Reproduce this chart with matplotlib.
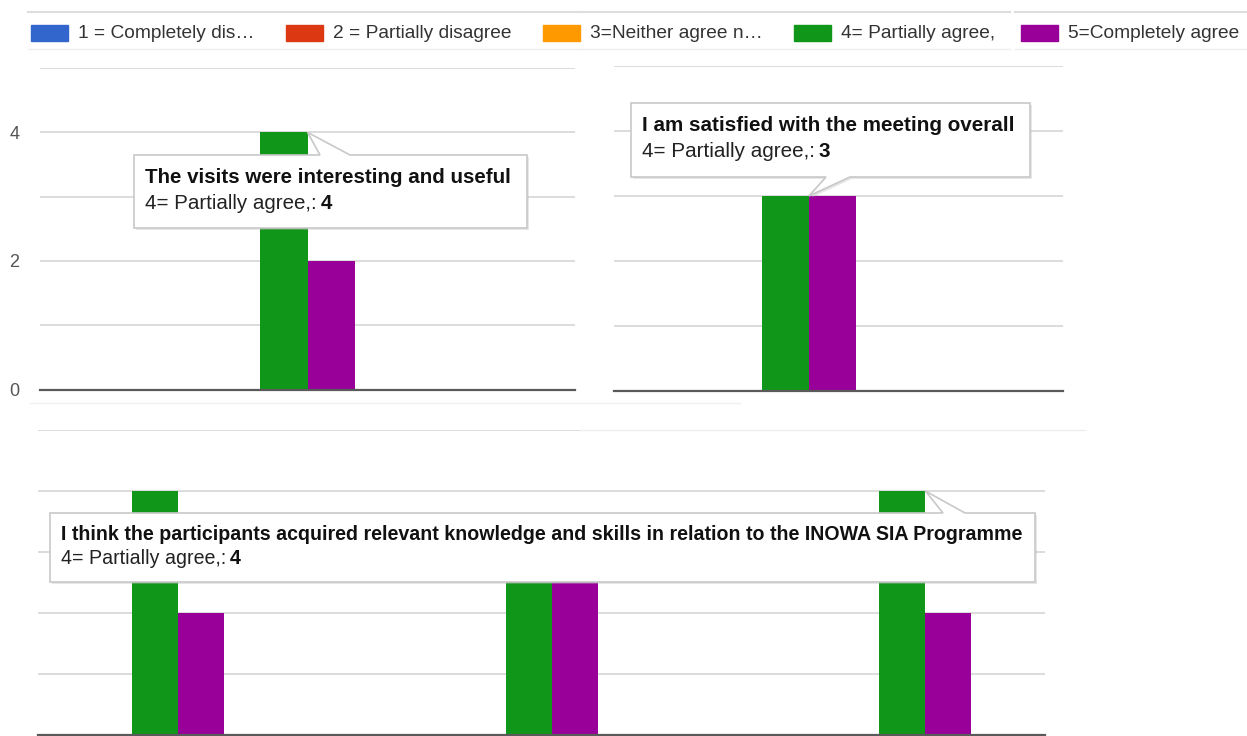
import numpy as np
import matplotlib.pyplot as plt
from matplotlib.patches import Rectangle, Polygon

plt.rcParams['font.family'] = ['Liberation Sans', 'DejaVu Sans']

W, H = 1247, 736

# legend entries
legend_labels = ["1 = Completely dis\u2026", "2 = Partially disagree", "3=Neither agree n\u2026",
                 "4= Partially agree,", "5=Completely agree"]
legend_colors = ["#3366cc", "#dc3912", "#ff9900", "#109618", "#990099"]

# panel data (counts per answer, only 4 and 5 present)
q1_title = "The visits were interesting and useful"
q1_agree4 = [4]
q1_agree5 = [2]

q2_title = "I am satisfied with the meeting overall"
q2_agree4 = [3]
q2_agree5 = [3]

q3_title = "I think the participants acquired relevant knowledge and skills in relation to the INOWA SIA Programme"
q3_agree4 = [4, 3, 4]
q3_agree5 = [2, 3, 2]

fig = plt.figure(figsize=(W / 100, H / 100), dpi=100)
fig.patch.set_facecolor("white")


def px_axes(x0, y0, x1, y1, z=1):
    return fig.add_axes([x0 / W, 1 - y1 / H, (x1 - x0) / W, (y1 - y0) / H], zorder=z)


def bar_panel(ax, v4, v5, xlim, width, labels=False):
    x = np.arange(len(v4))
    ax.bar(x - width / 2, v4, width, color="#109618", zorder=3)
    ax.bar(x + width / 2, v5, width, color="#990099", zorder=3)
    ax.set_xlim(*xlim)
    ax.set_ylim(0, 5)
    ax.set_yticks(range(6))
    ax.yaxis.grid(True, color="#d9d9d9", lw=1.3, zorder=0)
    ax.axhline(0, color="#5a5a5a", lw=1.6, zorder=4, clip_on=False)
    for s in ax.spines.values():
        s.set_visible(False)
    ax.set_xticks([])
    ax.tick_params(axis="y", length=0, pad=15, labelsize=13, labelcolor="#555555")
    if labels:
        ax.set_yticklabels(["0", "", "2", "", "4", ""])
    else:
        ax.set_yticklabels([])
    ax.patch.set_alpha(0)


ax1 = px_axes(40, 68, 575, 389.5)
bar_panel(ax1, q1_agree4, q1_agree5, (-0.5, 0.5), 0.088, labels=True)

ax2 = px_axes(614, 66, 1063, 391)
bar_panel(ax2, q2_agree4, q2_agree5, (-0.434, 0.566), 0.105)

ax3 = px_axes(38, 430, 1045, 735)
bar_panel(ax3, q3_agree4, q3_agree5, (-0.374, 2.32), 0.123)

# overlay in pixel coordinates for legend and tooltips
ov = fig.add_axes([0, 0, 1, 1], zorder=10)
ov.set_xlim(0, W)
ov.set_ylim(H, 0)
ov.axis("off")
ov.patch.set_alpha(0)

# legend frame lines
for xa, xb in [(28, 582), (582, 1010), (1015, 1247)]:
    ov.plot([xa, xb], [12, 12], color="#dddddd", lw=1.5)
    ov.plot([xa, xb], [49, 49], color="#eeeeee", lw=1)
ov.plot([30, 740], [403, 403], color="#f0f0f0", lw=1)
ov.plot([580, 1085], [430, 430], color="#eeeeee", lw=1)

sw_x = [31, 286, 543, 794, 1021]
for sx, lab, col in zip(sw_x, legend_labels, legend_colors):
    ov.add_patch(Rectangle((sx, 25), 37, 16, color=col))
    ov.text(sx + 47, 33, lab, fontsize=13.8, color="#333333", va="center", ha="left")


def to_px(ax, x, y):
    d = ax.transData.transform((x, y))
    return ov.transData.inverted().transform(d)


def tooltip(box, title, label, value, tip, base, side, fs):
    x0, y0, x1, y1 = box
    bx0, bx1 = base
    tx, ty = tip
    if side == "top":
        pts = [(x0, y0), (bx0, y0), (tx, ty), (bx1, y0), (x1, y0), (x1, y1), (x0, y1)]
    else:
        pts = [(x0, y0), (x1, y0), (x1, y1), (bx1, y1), (tx, ty), (bx0, y1), (x0, y1)]
    shadow = [(px + 2, py + 2) for px, py in pts]
    ov.add_patch(Polygon(shadow, closed=True, fc="#bbbbbb", ec="none", alpha=0.35))
    ov.add_patch(Polygon(pts, closed=True, fc="white", ec="#c8c8c8", lw=1.2))
    lx = x0 + 11
    ov.text(lx, y0 + (y1 - y0) * 0.31, title, fontsize=fs, fontweight="bold",
            color="#111111", va="center", ha="left")
    t = ov.text(lx, y0 + (y1 - y0) * 0.66, label, fontsize=fs, color="#222222",
                va="center", ha="left")
    r = fig.canvas.get_renderer()
    bb = t.get_window_extent(renderer=r)
    ex = ov.transData.inverted().transform((bb.x1, bb.y0))[0]
    ov.text(ex + 4, y0 + (y1 - y0) * 0.66, str(value), fontsize=fs, fontweight="bold",
            color="#111111", va="center", ha="left")


tooltip((134, 155, 527, 228), q1_title, "4= Partially agree,:", q1_agree4[0],
        to_px(ax1, 0, q1_agree4[0]), (320, 350), "top", 14.8)
tooltip((631, 103, 1030, 177), q2_title, "4= Partially agree,:", q2_agree4[0],
        to_px(ax2, 0, q2_agree4[0]), (826, 850), "bottom", 14.9)
tooltip((50, 513, 1035, 582), q3_title, "4= Partially agree,:", q3_agree4[2],
        to_px(ax3, 2, q3_agree4[2]), (943, 965), "top", 14.1)

fig.savefig("out.png", dpi=100, facecolor="white")
